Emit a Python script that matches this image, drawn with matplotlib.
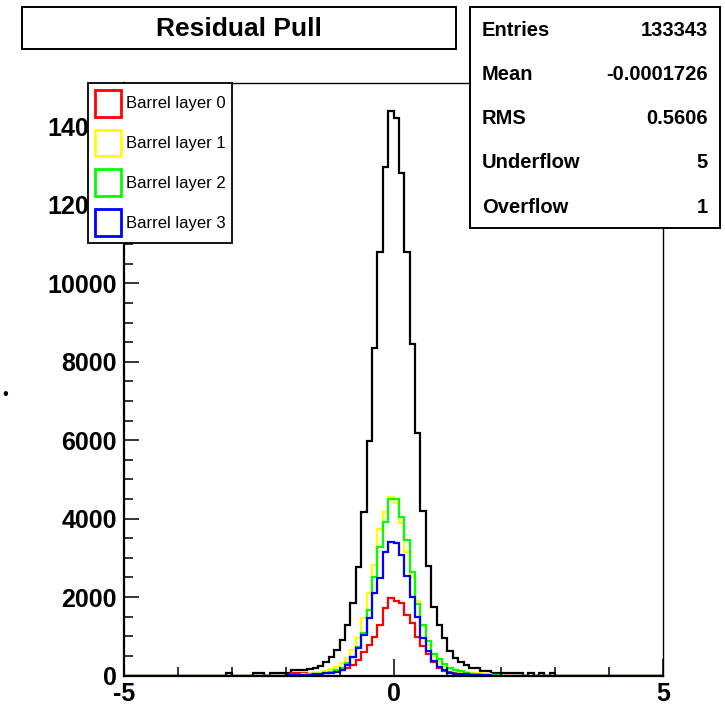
import numpy as np
import matplotlib
matplotlib.use("Agg")
from matplotlib import pyplot as plt
from matplotlib.patches import Rectangle, Patch

plt.rcParams['font.family'] = ['Liberation Sans', 'DejaVu Sans']
plt.rcParams['axes.unicode_minus'] = False

# bins of 0.1 from -5 to 5, only -3.5..3.5 have entries
edges = np.round(np.linspace(-5.0, 5.0, 101), 2)
pad = [0] * 15

black = pad + [0, 0, 0, 0, 60, 0, 0, 0, 0, 60, 60, 0, 60, 60, 60, 70,
               130, 130, 140, 160, 190, 230, 352, 479, 650, 905, 1287, 1840,
               2772, 4158, 5983, 8363, 10798, 12964, 14391,
               14213, 12822, 10798, 8465, 6197, 4199, 2790, 1753, 1287, 948,
               620, 440, 352, 268, 185, 180, 122, 122, 70, 70, 70, 70, 70, 70,
               0, 60, 0, 60, 0, 60, 0, 0, 0, 0, 0] + pad

layer0 = pad + [0] * 15 + [10, 70, 70, 70, 50, 55, 60, 75, 90, 110, 140, 183,
                           268, 395, 606, 777, 989, 1287, 1712, 1967,
                           1900, 1840, 1542, 1330, 989, 740, 540, 340, 200, 120,
                           100, 60, 40, 30, 20, 15, 10, 10] + [0] * 17 + pad

layer1 = pad + [0] * 15 + [10, 15, 20, 30, 45, 55, 70, 110, 160, 220, 320, 438,
                           650, 950, 1457, 2110, 2815, 3725, 4158, 4556,
                           4388, 3878, 3155, 2500, 1900, 1250, 780, 500, 350, 240,
                           160, 120, 95, 80, 70, 70, 65, 30, 20, 10] + [0] * 15 + pad

layer2 = pad + [0] * 15 + [5, 10, 15, 20, 30, 35, 50, 70, 100, 140, 190, 310,
                           479, 730, 1091, 1669, 2518, 3282, 3919, 4497,
                           4497, 4046, 3452, 2650, 1820, 1300, 870, 560, 430, 300,
                           200, 150, 110, 75, 45, 35, 25, 20, 10, 5] + [0] * 15 + pad

layer3 = pad + [0] * 15 + [5, 10, 15, 20, 25, 30, 40, 55, 75, 100, 150, 260,
                           479, 700, 1032, 1457, 2094, 2476, 3155, 3394,
                           3384, 3070, 2535, 2008, 1498, 950, 620, 380, 220, 130,
                           60, 50, 45, 30, 20, 15, 10, 5, 0, 0] + [0] * 15 + pad

layer_names = ['Barrel layer 0', 'Barrel layer 1', 'Barrel layer 2', 'Barrel layer 3']
layer_colors = ['#ff0000', '#ffff00', '#00ff00', '#0000ff']

stat_names = ['Entries', 'Mean', 'RMS', 'Underflow', 'Overflow']
stat_values = ['133343', '-0.0001726', '0.5606', '5', '1']

W, H = 725, 707


def fx(px):
    return px / W


def fy(py):
    return 1 - py / H


fig = plt.figure(figsize=(W / 100, H / 100), dpi=100)
ax = fig.add_axes([fx(124), fy(675.5), (663 - 124) / W, (675.5 - 83) / H])

ax.stairs(black, edges, color='black', linewidth=1.6)
for vals, c in zip([layer0, layer1, layer2, layer3], layer_colors):
    ax.stairs(vals, edges, color=c, linewidth=1.6)

ax.set_xlim(-5, 5)
ax.set_ylim(0, 15110)

ax.set_xticks([-5, 0, 5])
ax.set_xticks(np.arange(-4, 5), minor=True)
ax.set_yticks(np.arange(0, 14001, 2000))
ax.set_yticks(np.arange(0, 15001, 500), minor=True)
ax.tick_params(which='major', direction='in', length=11, width=1.1,
               labelsize=18, pad=5)
ax.tick_params(which='minor', direction='in', length=6.3, width=1.1)
ax.tick_params(axis='x', which='major', length=12)
for lab in ax.get_xticklabels() + ax.get_yticklabels():
    lab.set_fontweight('bold')

ax.spines['left'].set_linewidth(1.6)
ax.spines['bottom'].set_linewidth(1.6)
ax.spines['top'].set_linewidth(1.0)
ax.spines['right'].set_linewidth(1.0)

handles = [Patch(facecolor='white', edgecolor=c, linewidth=2) for c in layer_colors]
leg = ax.legend(handles, layer_names, loc='upper left',
                bbox_to_anchor=(fx(88), fy(83)), bbox_transform=fig.transFigure,
                borderaxespad=0, fancybox=False, framealpha=1, edgecolor='black',
                fontsize=12, handlelength=1.55, handleheight=2.1,
                handletextpad=0.3, labelspacing=0.78, borderpad=0.4)
leg.get_frame().set_linewidth(1.3)

# title box
fig.add_artist(Rectangle((fx(22), fy(49)), (456 - 22) / W, (49 - 7) / H,
                         transform=fig.transFigure, facecolor='white',
                         edgecolor='black', linewidth=1.4))
fig.text(fx(239), fy(29), 'Residual Pull', ha='center', va='center',
         fontsize=19, fontweight='bold')

# stats box
fig.add_artist(Rectangle((fx(470), fy(228)), (720 - 470) / W, (228 - 7) / H,
                         transform=fig.transFigure, facecolor='white',
                         edgecolor='black', linewidth=1.4))
row_y = [30, 75, 119, 163, 208]
for name, val, y in zip(stat_names, stat_values, row_y):
    fig.text(fx(482), fy(y), name, ha='left', va='center',
             fontsize=14.5, fontweight='bold')
    fig.text(fx(708), fy(y), val, ha='right', va='center',
             fontsize=14.5, fontweight='bold')

fig.text(fx(5), fy(395), '\u2022', ha='center', va='center', fontsize=12)

fig.savefig('out.png', dpi=100)
